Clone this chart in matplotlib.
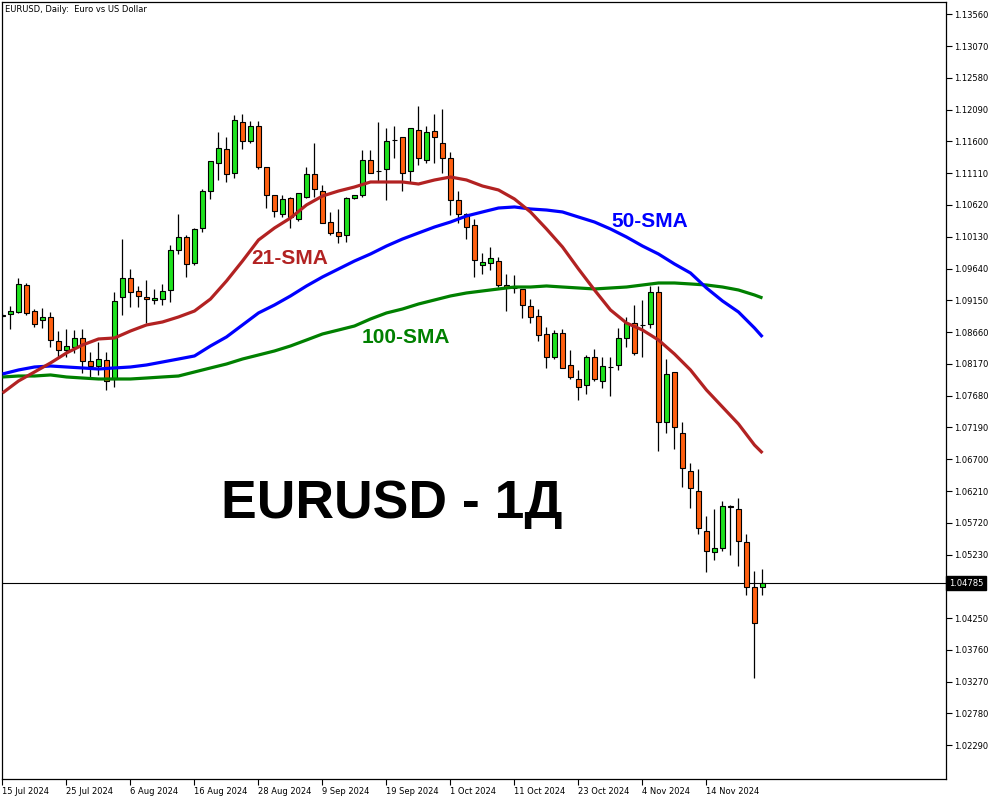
import numpy as np
import matplotlib.pyplot as plt

# daily EURUSD candles, 15 Jul 2024 .. 25 Nov 2024
opens = [1.0891, 1.0894, 1.0897, 1.0939, 1.0899, 1.0885, 1.0889, 1.0853, 1.0839, 1.0843,
         1.0857, 1.0822, 1.0813, 1.0823, 1.0793, 1.0920, 1.0949, 1.0929, 1.0920, 1.0916,
         1.0917, 1.0931, 1.0992, 1.1012, 1.0972, 1.1026, 1.1084, 1.1126, 1.1149, 1.1112,
         1.1190, 1.1161, 1.1184, 1.1120, 1.1077, 1.1048, 1.1072, 1.1040, 1.1074, 1.1110,
         1.1084, 1.1035, 1.1020, 1.1015, 1.1072, 1.1078, 1.1132, 1.1114, 1.1117, 1.1162,
         1.1166, 1.1114, 1.1178, 1.1132, 1.1176, 1.1158, 1.1134, 1.1069, 1.1048, 1.1031,
         1.0969, 1.0972, 1.0975, 1.0939, 1.0934, 1.0932, 1.0906, 1.0891, 1.0863, 1.0828,
         1.0865, 1.0816, 1.0794, 1.0784, 1.0827, 1.0791, 1.0812, 1.0816, 1.0857, 1.0880,
         1.0877, 1.0879, 1.0928, 1.0727, 1.0805, 1.0711, 1.0652, 1.0621, 1.0559, 1.0527,
         1.0533, 1.0598, 1.0593, 1.0543, 1.0473, 1.0473]
highs = [1.0895, 1.0906, 1.0949, 1.0942, 1.0902, 1.0903, 1.0897, 1.0868, 1.0871, 1.0869,
         1.0871, 1.0836, 1.0850, 1.0836, 1.0928, 1.1009, 1.0963, 1.0937, 1.0946, 1.0932,
         1.0940, 1.1000, 1.1048, 1.1015, 1.1026, 1.1087, 1.1130, 1.1175, 1.1167, 1.1201,
         1.1203, 1.1192, 1.1192, 1.1120, 1.1077, 1.1078, 1.1074, 1.1080, 1.1121, 1.1157,
         1.1092, 1.1051, 1.1055, 1.1074, 1.1078, 1.1147, 1.1147, 1.1190, 1.1180, 1.1183,
         1.1167, 1.1181, 1.1215, 1.1184, 1.1203, 1.1210, 1.1143, 1.1084, 1.1049, 1.1040,
         1.0988, 1.0997, 1.0982, 1.0955, 1.0954, 1.0932, 1.0917, 1.0902, 1.0874, 1.0869,
         1.0871, 1.0839, 1.0808, 1.0830, 1.0840, 1.0828, 1.0827, 1.0873, 1.0889, 1.0908,
         1.0916, 1.0937, 1.0937, 1.0825, 1.0805, 1.0728, 1.0664, 1.0655, 1.0582, 1.0593,
         1.0606, 1.0599, 1.0610, 1.0555, 1.0498, 1.0501]
lows = [1.0889, 1.0871, 1.0896, 1.0893, 1.0874, 1.0873, 1.0843, 1.0828, 1.0828, 1.0834,
        1.0803, 1.0797, 1.0800, 1.0776, 1.0782, 1.0893, 1.0905, 1.0905, 1.0880, 1.0909,
        1.0908, 1.0912, 1.0986, 1.0951, 1.0969, 1.1021, 1.1071, 1.1100, 1.1097, 1.1104,
        1.1149, 1.1157, 1.1118, 1.1057, 1.1043, 1.1043, 1.1026, 1.1038, 1.1072, 1.1074,
        1.1034, 1.1015, 1.1003, 1.1005, 1.1071, 1.1074, 1.1112, 1.1097, 1.1069, 1.1135,
        1.1083, 1.1097, 1.1123, 1.1126, 1.1126, 1.1112, 1.1046, 1.1034, 1.1009, 1.0951,
        1.0955, 1.0962, 1.0936, 1.0899, 1.0926, 1.0888, 1.0880, 1.0853, 1.0810, 1.0825,
        1.0810, 1.0793, 1.0762, 1.0770, 1.0791, 1.0780, 1.0768, 1.0808, 1.0843, 1.0831,
        1.0828, 1.0873, 1.0682, 1.0711, 1.0685, 1.0627, 1.0595, 1.0555, 1.0496, 1.0515,
        1.0529, 1.0523, 1.0506, 1.0461, 1.0332, 1.0460]
closes = [1.0893, 1.0899, 1.0940, 1.0896, 1.0879, 1.0889, 1.0854, 1.0839, 1.0845, 1.0857,
          1.0822, 1.0813, 1.0825, 1.0791, 1.0914, 1.0949, 1.0928, 1.0922, 1.0917, 1.0919,
          1.0929, 1.0992, 1.1012, 1.0971, 1.1025, 1.1084, 1.1129, 1.1150, 1.1110, 1.1193,
          1.1161, 1.1184, 1.1120, 1.1078, 1.1052, 1.1071, 1.1043, 1.1080, 1.1110, 1.1087,
          1.1034, 1.1018, 1.1014, 1.1072, 1.1078, 1.1132, 1.1112, 1.1114, 1.1160, 1.1162,
          1.1112, 1.1180, 1.1134, 1.1175, 1.1166, 1.1135, 1.1069, 1.1048, 1.1028, 1.0977,
          1.0974, 1.0980, 1.0939, 1.0936, 1.0934, 1.0908, 1.0889, 1.0862, 1.0828, 1.0865,
          1.0811, 1.0796, 1.0782, 1.0828, 1.0794, 1.0813, 1.0812, 1.0857, 1.0880, 1.0834,
          1.0877, 1.0928, 1.0728, 1.0802, 1.0719, 1.0656, 1.0625, 1.0564, 1.0529, 1.0533,
          1.0598, 1.0596, 1.0544, 1.0473, 1.0418, 1.04785]

# moving averages, sampled every second bar (last point = last bar)
sma_bars = list(range(0, 96, 2)) + [95]
sma21 = [1.07721, 1.07906, 1.08045, 1.08184, 1.08338, 1.08461, 1.08554, 1.08569, 1.08677, 1.08770,
         1.08816, 1.08893, 1.08985, 1.09170, 1.09448, 1.09756, 1.10080, 1.10265, 1.10419, 1.10620,
         1.10758, 1.10835, 1.10897, 1.10974, 1.10974, 1.10974, 1.10943, 1.11005, 1.11051, 1.11005,
         1.10912, 1.10851, 1.10712, 1.10512, 1.10250, 1.09972, 1.09633, 1.09309, 1.09001, 1.08800,
         1.08692, 1.08538, 1.08322, 1.08076, 1.07767, 1.07505, 1.07243, 1.06919, 1.06796]
sma50 = [1.08014, 1.08076, 1.08122, 1.08137, 1.08122, 1.08107, 1.08091, 1.08107, 1.08122, 1.08153,
         1.08199, 1.08245, 1.08292, 1.08446, 1.08585, 1.08770, 1.08955, 1.09078, 1.09217, 1.09371,
         1.09510, 1.09633, 1.09756, 1.09864, 1.09987, 1.10095, 1.10188, 1.10280, 1.10357, 1.10450,
         1.10512, 1.10573, 1.10589, 1.10558, 1.10542, 1.10512, 1.10434, 1.10357, 1.10250, 1.10126,
         1.09987, 1.09864, 1.09710, 1.09571, 1.09340, 1.09140, 1.08970, 1.08723, 1.08585]
sma100 = [1.07968, 1.07983, 1.07983, 1.07999, 1.07968, 1.07952, 1.07937, 1.07937, 1.07937, 1.07952,
          1.07968, 1.07983, 1.08045, 1.08107, 1.08168, 1.08245, 1.08307, 1.08369, 1.08446, 1.08538,
          1.08631, 1.08692, 1.08754, 1.08862, 1.08955, 1.09016, 1.09093, 1.09155, 1.09217, 1.09263,
          1.09294, 1.09325, 1.09355, 1.09355, 1.09371, 1.09355, 1.09340, 1.09325, 1.09340, 1.09355,
          1.09386, 1.09417, 1.09417, 1.09402, 1.09386, 1.09355, 1.09309, 1.09232, 1.09186]

date_labels = ['15 Jul 2024', '25 Jul 2024', '6 Aug 2024', '16 Aug 2024', '28 Aug 2024',
               '9 Sep 2024', '19 Sep 2024', '1 Oct 2024', '11 Oct 2024', '23 Oct 2024',
               '4 Nov 2024', '14 Nov 2024']
last_price = 1.04785

GREEN = '#1ee21e'
ORANGE = '#ff6010'

fig = plt.figure(figsize=(10, 8), dpi=100)
ax = fig.add_axes([0.002, 0.02625, 0.944, 0.97125])

idx = np.arange(len(opens))
o = np.array(opens)
c = np.array(closes)
cols = [GREEN if cc > oo else ORANGE for oo, cc in zip(o, c)]

ax.vlines(idx, lows, highs, color='black', lw=0.9, zorder=2)
ax.bar(idx, c - o, bottom=o, width=0.68, color=cols, edgecolor='black',
       linewidth=0.8, zorder=3)

ax.plot(sma_bars, sma100, color='#008000', lw=2.3, zorder=4, solid_capstyle='butt')
ax.plot(sma_bars, sma50, color='#0000ff', lw=2.3, zorder=4, solid_capstyle='butt')
ax.plot(sma_bars, sma21, color='#b22222', lw=2.3, zorder=4, solid_capstyle='butt')

ax.axhline(last_price, color='black', lw=0.8, zorder=1)

ax.set_xlim(-0.0625, 117.94)
ax.set_ylim(1.01770, 1.13749)

# axes: prices on the right, dates at the bottom
ax.yaxis.tick_right()
yt = [v for v in np.arange(1.02290, 1.13600, 0.0049) if abs(v - 1.04740) > 1e-6]
ax.set_yticks(yt)
ax.set_yticklabels([f'{v:.5f}' for v in yt])
ax.set_xticks(range(0, 8 * len(date_labels), 8))
ax.set_xticklabels(date_labels, ha='left')
ax.tick_params(axis='both', direction='out', length=4, width=0.8, labelsize=6, pad=2)
for s in ax.spines.values():
    s.set_linewidth(0.9)

ax.text(1.003, last_price, f'{last_price:.5f}', transform=ax.get_yaxis_transform(),
        ha='left', va='center', fontsize=6, color='white',
        bbox=dict(boxstyle='square,pad=0.3', fc='black', ec='black'))

# labels
fig.text(0.005, 1 - 12.5 / 800, 'EURUSD, Daily:  Euro vs US Dollar', fontsize=6,
         va='baseline', ha='left')
bold = dict(family='Liberation Sans', fontweight='bold', va='baseline', ha='left')
fig.text(0.251, 1 - 264 / 800, '21-SMA', color='#b22222', fontsize=15, **bold)
fig.text(0.611, 1 - 227 / 800, '50-SMA', color='#0000ff', fontsize=15, **bold)
fig.text(0.362, 1 - 343 / 800, '100-SMA', color='#008000', fontsize=15, **bold)
fig.text(0.221, 1 - 518 / 800, 'EURUSD - 1Д', color='black', fontsize=38.5, **bold)

fig.savefig('out.png', dpi=100, facecolor='white')
